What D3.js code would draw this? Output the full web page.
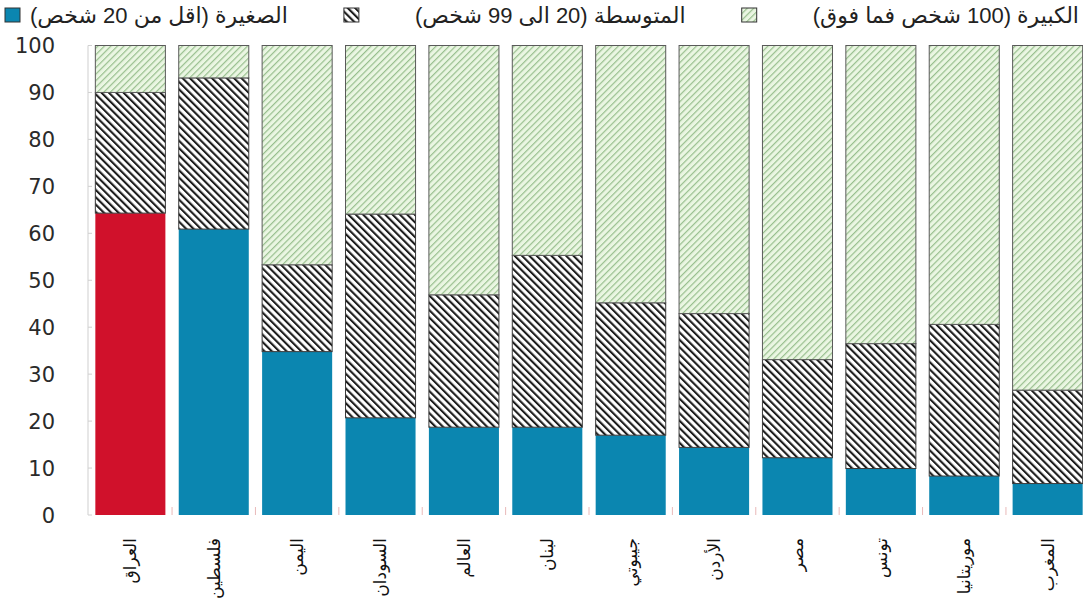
<!DOCTYPE html>
<html><head><meta charset="utf-8">
<script src="https://cdn.jsdelivr.net/npm/d3@7"></script>
<style>
html,body{margin:0;padding:0;background:#fff;}
svg{display:block;}
</style></head>
<body>
<svg id="chart" width="1083" height="605"></svg>
<script>
const categories = ["العراق","فلسطين","اليمن","السودان","العالم","لبنان","جيبوتي","الأردن","مصر","تونس","موريتانيا","المغرب"];
const smallShare  = [64.3, 60.9, 34.8, 20.7, 18.7, 18.7, 17.0, 14.4, 12.2, 9.9, 8.3, 6.7];
const mediumShare = [25.7, 32.2, 18.5, 43.4, 28.2, 36.6, 28.2, 28.5, 20.9, 26.6, 32.3, 19.9];
const largeShare  = [10.0, 6.9, 46.7, 35.9, 53.1, 44.7, 54.8, 57.1, 66.9, 63.5, 59.4, 73.4];
const yTicks = [0,10,20,30,40,50,60,70,80,90,100];
const legendLabels = ["الكبيرة (100 شخص فما فوق)","المتوسطة (20 الى 99 شخص)","الصغيرة (اقل من 20 شخص)"];

const svg = d3.select("#chart");
const defs = svg.append("defs");

const pm = defs.append("pattern").attr("id","pMed").attr("patternUnits","userSpaceOnUse")
  .attr("width",5.2).attr("height",5.2).attr("patternTransform","rotate(-45)");
pm.append("rect").attr("width",5.2).attr("height",5.2).attr("fill","#fff");
pm.append("rect").attr("x",0).attr("y",0).attr("width",2.1).attr("height",5.2).attr("fill","#1c1c1c");

const pl = defs.append("pattern").attr("id","pLarge").attr("patternUnits","userSpaceOnUse")
  .attr("width",4.6).attr("height",4.6).attr("patternTransform","rotate(45)");
pl.append("rect").attr("width",4.6).attr("height",4.6).attr("fill","#eaf6e2");
pl.append("rect").attr("x",0).attr("y",0).attr("width",1.2).attr("height",4.6).attr("fill","#98bf8e");

const x = d3.scaleBand().domain(categories).range([87, 1091]).paddingInner(0.16).paddingOuter(0.1);
const y = d3.scaleLinear().domain([0,100]).range([515, 45.5]);

svg.append("line").attr("x1",88).attr("x2",88).attr("y1",y(100)).attr("y2",y(0))
  .attr("stroke","#cfcfcf").attr("stroke-width",1);
svg.selectAll(".ytm").data(yTicks).enter().append("line")
  .attr("x1",88).attr("x2",92).attr("y1",d=>y(d)).attr("y2",d=>y(d))
  .attr("stroke","#d0d0d0").attr("stroke-width",1);
svg.selectAll(".ytl").data(yTicks).enter().append("text")
  .attr("x",55).attr("y",d=>y(d)).attr("dy","0.36em")
  .attr("text-anchor","end").attr("font-family","DejaVu Sans, sans-serif")
  .attr("font-size",21).attr("fill","#2a2a2a").text(d=>d);

const step = x.step();
svg.selectAll(".xtm").data(categories.slice(1)).enter().append("line")
  .attr("x1",d=>x(d)-(step-x.bandwidth())/2).attr("x2",d=>x(d)-(step-x.bandwidth())/2)
  .attr("y1",y(0)).attr("y2",y(0)-8).attr("stroke","#e9b9b9").attr("stroke-width",1);

const rows = categories.map((c,i)=>({cat:c, small:smallShare[i], medium:mediumShare[i], large:largeShare[i], i}));
const stack = d3.stack().keys(["small","medium","large"])(rows);
const fills = {small:(d)=> d.data.i===0 ? "#d0112b" : "#0b86b0", medium:()=> "url(#pMed)", large:()=> "url(#pLarge)"};
const strokes = {small:"none", medium:"#3a3a3a", large:"#5a5a5a"};

stack.forEach(layer=>{
  svg.append("g").selectAll("rect").data(layer).enter().append("rect")
    .attr("x",d=>x(d.data.cat)).attr("width",x.bandwidth())
    .attr("y",d=>y(d[1])).attr("height",d=>y(d[0])-y(d[1]))
    .attr("fill",d=>fills[layer.key](d))
    .attr("stroke",strokes[layer.key]).attr("stroke-width",1);
});

svg.selectAll(".xl").data(categories).enter().append("text")
  .attr("transform",d=>`translate(${x(d)+x.bandwidth()/2},538) rotate(-90)`)
  .attr("dy","0.35em").attr("text-anchor","end")
  .attr("font-family","DejaVu Sans, sans-serif").attr("font-size",17).attr("fill","#111")
  .text(d=>d);

// legend, right to left: label, box, label, box, label, box
const legendFills = ["url(#pLarge)","url(#pMed)","#0b86b0"];
const ly = 15, boxW = 15, right = 1079, left = 5, lastGap = 10;
const texts = legendLabels.map(lab => svg.append("text").attr("y",ly).attr("dy","0.35em")
    .attr("text-anchor","end").attr("font-family","Liberation Sans, DejaVu Sans, sans-serif")
    .attr("font-size",22).attr("fill","#222").text(lab));
const widths = texts.map(t => t.node().getComputedTextLength());
const gap = (right - left - d3.sum(widths) - 3*boxW - lastGap) / 4;
let xr = right;
texts.forEach((t,i)=>{
  t.attr("x", xr);
  const g = i === 2 ? lastGap : gap;
  const bx = xr - widths[i] - g - boxW;
  svg.append("rect").attr("x",bx).attr("y",ly-7).attr("width",boxW).attr("height",14)
    .attr("fill",legendFills[i]).attr("stroke","#333").attr("stroke-width",1);
  xr = bx - gap;
});
</script>
</body></html>
